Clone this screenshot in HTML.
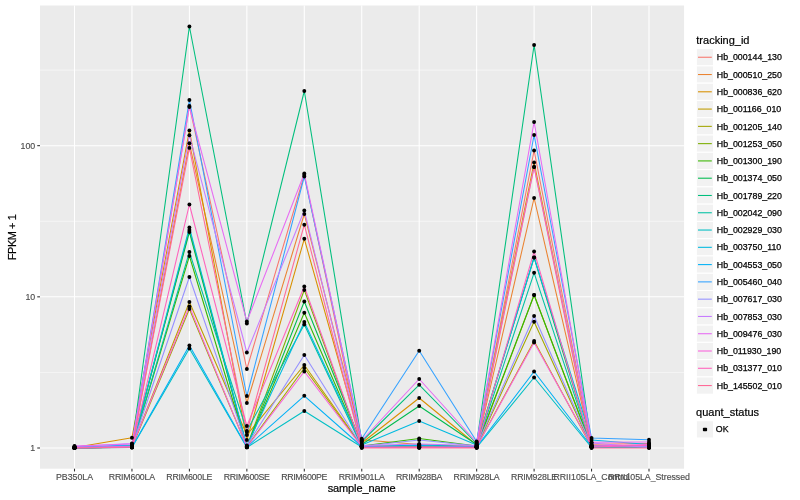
<!DOCTYPE html><html><head><meta charset="utf-8"><title>plot</title><style>html,body{margin:0;padding:0;background:#fff}svg{display:block}text{font-family:"Liberation Sans",sans-serif}</style></head><body>
<svg width="800" height="500" viewBox="0 0 800 500">
<rect width="800" height="500" fill="#fff"/>
<rect x="40.0" y="5.5" width="644.05" height="463.2" fill="#EBEBEB"/>
<g stroke="#fff" stroke-width="0.53" opacity="1">
<line x1="40.0" x2="684.05" y1="372.42" y2="372.42"/>
<line x1="40.0" x2="684.05" y1="221.25" y2="221.25"/>
<line x1="40.0" x2="684.05" y1="70.08" y2="70.08"/>
</g>
<g stroke="#fff" stroke-width="1.07">
<line x1="40.0" x2="684.05" y1="448.00" y2="448.00"/>
<line x1="40.0" x2="684.05" y1="296.83" y2="296.83"/>
<line x1="40.0" x2="684.05" y1="145.66" y2="145.66"/>
<line x1="74.5" x2="74.5" y1="5.5" y2="468.7"/>
<line x1="131.95" x2="131.95" y1="5.5" y2="468.7"/>
<line x1="189.4" x2="189.4" y1="5.5" y2="468.7"/>
<line x1="246.85000000000002" x2="246.85000000000002" y1="5.5" y2="468.7"/>
<line x1="304.3" x2="304.3" y1="5.5" y2="468.7"/>
<line x1="361.75" x2="361.75" y1="5.5" y2="468.7"/>
<line x1="419.20000000000005" x2="419.20000000000005" y1="5.5" y2="468.7"/>
<line x1="476.65000000000003" x2="476.65000000000003" y1="5.5" y2="468.7"/>
<line x1="534.1" x2="534.1" y1="5.5" y2="468.7"/>
<line x1="591.5500000000001" x2="591.5500000000001" y1="5.5" y2="468.7"/>
<line x1="649.0" x2="649.0" y1="5.5" y2="468.7"/>
</g>
<g fill="none" stroke-width="1.07" stroke-linejoin="round" stroke-linecap="butt">
<polyline stroke="#F8766D" points="74.5,448 131.95,446.5 189.4,106 246.85000000000002,369 304.3,175 361.75,446.5 419.20000000000005,447 476.65000000000003,446 534.1,150.5 591.5500000000001,444.3 649.0,443.5"/>
<polyline stroke="#EA8331" points="74.5,448 131.95,447 189.4,143.3 246.85000000000002,403 304.3,214 361.75,439.7 419.20000000000005,444.5 476.65000000000003,446.5 534.1,198 591.5500000000001,446 649.0,446.5"/>
<polyline stroke="#D89000" points="74.5,447.5 131.95,437.8 189.4,130.4 246.85000000000002,440 304.3,238.8 361.75,443 419.20000000000005,398 476.65000000000003,445 534.1,162.5 591.5500000000001,446.5 649.0,447"/>
<polyline stroke="#C09B00" points="74.5,448 131.95,447 189.4,302 246.85000000000002,435 304.3,365 361.75,446 419.20000000000005,446 476.65000000000003,447 534.1,341 591.5500000000001,447 649.0,447"/>
<polyline stroke="#A3A500" points="74.5,448 131.95,447.2 189.4,309 246.85000000000002,446.7 304.3,368 361.75,446.5 419.20000000000005,446.5 476.65000000000003,447 534.1,321.8 591.5500000000001,447 649.0,447.3"/>
<polyline stroke="#7CAE00" points="74.5,448 131.95,446.8 189.4,230 246.85000000000002,446.5 304.3,290 361.75,447 419.20000000000005,447 476.65000000000003,447.2 534.1,295 591.5500000000001,447.2 649.0,447.3"/>
<polyline stroke="#39B600" points="74.5,448 131.95,447 189.4,256 246.85000000000002,447 304.3,312.8 361.75,446 419.20000000000005,438.5 476.65000000000003,446 534.1,295 591.5500000000001,446.5 649.0,447"/>
<polyline stroke="#00BB4E" points="74.5,447.6 131.95,446 189.4,232 246.85000000000002,447 304.3,301.5 361.75,444.5 419.20000000000005,406 476.65000000000003,444.5 534.1,257.5 591.5500000000001,446.2 649.0,446.5"/>
<polyline stroke="#00BF7D" points="74.5,447.5 131.95,445.5 189.4,26.5 246.85000000000002,323.5 304.3,91 361.75,441.5 419.20000000000005,384.8 476.65000000000003,443.5 534.1,45 591.5500000000001,445.5 649.0,446"/>
<polyline stroke="#00C1A3" points="74.5,448 131.95,447 189.4,252 246.85000000000002,431 304.3,324.5 361.75,446.8 419.20000000000005,445 476.65000000000003,446.5 534.1,272.8 591.5500000000001,446.8 649.0,447"/>
<polyline stroke="#00BFC4" points="74.5,448 131.95,447.5 189.4,348.5 246.85000000000002,447.5 304.3,411 361.75,447 419.20000000000005,447.2 476.65000000000003,447.5 534.1,377.5 591.5500000000001,447.5 649.0,447.5"/>
<polyline stroke="#00BAE0" points="74.5,447.6 131.95,446.5 189.4,227.5 246.85000000000002,446 304.3,322 361.75,445 419.20000000000005,421 476.65000000000003,445 534.1,257.5 591.5500000000001,440 649.0,444.5"/>
<polyline stroke="#00B0F6" points="74.5,448 131.95,447.3 189.4,345.5 246.85000000000002,447 304.3,395.8 361.75,446.5 419.20000000000005,445.5 476.65000000000003,447 534.1,371.5 591.5500000000001,446.5 649.0,446"/>
<polyline stroke="#35A2FF" points="74.5,447 131.95,445 189.4,100 246.85000000000002,396 304.3,176.5 361.75,438.8 419.20000000000005,350.8 476.65000000000003,441.5 534.1,135 591.5500000000001,438 649.0,439.8"/>
<polyline stroke="#9590FF" points="74.5,447.5 131.95,446.5 189.4,277 246.85000000000002,445.4 304.3,355 361.75,446.2 419.20000000000005,440 476.65000000000003,446 534.1,316 591.5500000000001,446 649.0,446.5"/>
<polyline stroke="#C77CFF" points="74.5,446.5 131.95,443.5 189.4,135.3 246.85000000000002,352.5 304.3,210.5 361.75,445.5 419.20000000000005,444 476.65000000000003,445.5 534.1,167 591.5500000000001,443 649.0,447.5"/>
<polyline stroke="#E76BF3" points="74.5,446 131.95,444 189.4,107 246.85000000000002,321.5 304.3,173.5 361.75,440.5 419.20000000000005,379 476.65000000000003,442.5 534.1,122 591.5500000000001,442.3 649.0,442"/>
<polyline stroke="#FA62DB" points="74.5,447.5 131.95,446.5 189.4,306.5 246.85000000000002,447.1 304.3,371.5 361.75,446.8 419.20000000000005,447 476.65000000000003,447 534.1,342.5 591.5500000000001,446 649.0,444.5"/>
<polyline stroke="#FF62BC" points="74.5,448 131.95,447 189.4,204.5 246.85000000000002,426 304.3,286.5 361.75,447.3 419.20000000000005,447.5 476.65000000000003,447.3 534.1,251.5 591.5500000000001,447 649.0,445.3"/>
<polyline stroke="#FF6A98" points="74.5,448 131.95,447.5 189.4,147.9 246.85000000000002,432 304.3,224.7 361.75,448 419.20000000000005,448 476.65000000000003,448 534.1,167 591.5500000000001,448 649.0,448"/>
</g>
<g fill="#000">
<circle cx="74.5" cy="448" r="1.95"/>
<circle cx="131.95" cy="446.5" r="1.95"/>
<circle cx="189.4" cy="106" r="1.95"/>
<circle cx="246.85000000000002" cy="369" r="1.95"/>
<circle cx="304.3" cy="175" r="1.95"/>
<circle cx="361.75" cy="446.5" r="1.95"/>
<circle cx="419.20000000000005" cy="447" r="1.95"/>
<circle cx="476.65000000000003" cy="446" r="1.95"/>
<circle cx="534.1" cy="150.5" r="1.95"/>
<circle cx="591.5500000000001" cy="444.3" r="1.95"/>
<circle cx="649.0" cy="443.5" r="1.95"/>
<circle cx="74.5" cy="448" r="1.95"/>
<circle cx="131.95" cy="447" r="1.95"/>
<circle cx="189.4" cy="143.3" r="1.95"/>
<circle cx="246.85000000000002" cy="403" r="1.95"/>
<circle cx="304.3" cy="214" r="1.95"/>
<circle cx="361.75" cy="439.7" r="1.95"/>
<circle cx="419.20000000000005" cy="444.5" r="1.95"/>
<circle cx="476.65000000000003" cy="446.5" r="1.95"/>
<circle cx="534.1" cy="198" r="1.95"/>
<circle cx="591.5500000000001" cy="446" r="1.95"/>
<circle cx="649.0" cy="446.5" r="1.95"/>
<circle cx="74.5" cy="447.5" r="1.95"/>
<circle cx="131.95" cy="437.8" r="1.95"/>
<circle cx="189.4" cy="130.4" r="1.95"/>
<circle cx="246.85000000000002" cy="440" r="1.95"/>
<circle cx="304.3" cy="238.8" r="1.95"/>
<circle cx="361.75" cy="443" r="1.95"/>
<circle cx="419.20000000000005" cy="398" r="1.95"/>
<circle cx="476.65000000000003" cy="445" r="1.95"/>
<circle cx="534.1" cy="162.5" r="1.95"/>
<circle cx="591.5500000000001" cy="446.5" r="1.95"/>
<circle cx="649.0" cy="447" r="1.95"/>
<circle cx="74.5" cy="448" r="1.95"/>
<circle cx="131.95" cy="447" r="1.95"/>
<circle cx="189.4" cy="302" r="1.95"/>
<circle cx="246.85000000000002" cy="435" r="1.95"/>
<circle cx="304.3" cy="365" r="1.95"/>
<circle cx="361.75" cy="446" r="1.95"/>
<circle cx="419.20000000000005" cy="446" r="1.95"/>
<circle cx="476.65000000000003" cy="447" r="1.95"/>
<circle cx="534.1" cy="341" r="1.95"/>
<circle cx="591.5500000000001" cy="447" r="1.95"/>
<circle cx="649.0" cy="447" r="1.95"/>
<circle cx="74.5" cy="448" r="1.95"/>
<circle cx="131.95" cy="447.2" r="1.95"/>
<circle cx="189.4" cy="309" r="1.95"/>
<circle cx="246.85000000000002" cy="446.7" r="1.95"/>
<circle cx="304.3" cy="368" r="1.95"/>
<circle cx="361.75" cy="446.5" r="1.95"/>
<circle cx="419.20000000000005" cy="446.5" r="1.95"/>
<circle cx="476.65000000000003" cy="447" r="1.95"/>
<circle cx="534.1" cy="321.8" r="1.95"/>
<circle cx="591.5500000000001" cy="447" r="1.95"/>
<circle cx="649.0" cy="447.3" r="1.95"/>
<circle cx="74.5" cy="448" r="1.95"/>
<circle cx="131.95" cy="446.8" r="1.95"/>
<circle cx="189.4" cy="230" r="1.95"/>
<circle cx="246.85000000000002" cy="446.5" r="1.95"/>
<circle cx="304.3" cy="290" r="1.95"/>
<circle cx="361.75" cy="447" r="1.95"/>
<circle cx="419.20000000000005" cy="447" r="1.95"/>
<circle cx="476.65000000000003" cy="447.2" r="1.95"/>
<circle cx="534.1" cy="295" r="1.95"/>
<circle cx="591.5500000000001" cy="447.2" r="1.95"/>
<circle cx="649.0" cy="447.3" r="1.95"/>
<circle cx="74.5" cy="448" r="1.95"/>
<circle cx="131.95" cy="447" r="1.95"/>
<circle cx="189.4" cy="256" r="1.95"/>
<circle cx="246.85000000000002" cy="447" r="1.95"/>
<circle cx="304.3" cy="312.8" r="1.95"/>
<circle cx="361.75" cy="446" r="1.95"/>
<circle cx="419.20000000000005" cy="438.5" r="1.95"/>
<circle cx="476.65000000000003" cy="446" r="1.95"/>
<circle cx="534.1" cy="295" r="1.95"/>
<circle cx="591.5500000000001" cy="446.5" r="1.95"/>
<circle cx="649.0" cy="447" r="1.95"/>
<circle cx="74.5" cy="447.6" r="1.95"/>
<circle cx="131.95" cy="446" r="1.95"/>
<circle cx="189.4" cy="232" r="1.95"/>
<circle cx="246.85000000000002" cy="447" r="1.95"/>
<circle cx="304.3" cy="301.5" r="1.95"/>
<circle cx="361.75" cy="444.5" r="1.95"/>
<circle cx="419.20000000000005" cy="406" r="1.95"/>
<circle cx="476.65000000000003" cy="444.5" r="1.95"/>
<circle cx="534.1" cy="257.5" r="1.95"/>
<circle cx="591.5500000000001" cy="446.2" r="1.95"/>
<circle cx="649.0" cy="446.5" r="1.95"/>
<circle cx="74.5" cy="447.5" r="1.95"/>
<circle cx="131.95" cy="445.5" r="1.95"/>
<circle cx="189.4" cy="26.5" r="1.95"/>
<circle cx="246.85000000000002" cy="323.5" r="1.95"/>
<circle cx="304.3" cy="91" r="1.95"/>
<circle cx="361.75" cy="441.5" r="1.95"/>
<circle cx="419.20000000000005" cy="384.8" r="1.95"/>
<circle cx="476.65000000000003" cy="443.5" r="1.95"/>
<circle cx="534.1" cy="45" r="1.95"/>
<circle cx="591.5500000000001" cy="445.5" r="1.95"/>
<circle cx="649.0" cy="446" r="1.95"/>
<circle cx="74.5" cy="448" r="1.95"/>
<circle cx="131.95" cy="447" r="1.95"/>
<circle cx="189.4" cy="252" r="1.95"/>
<circle cx="246.85000000000002" cy="431" r="1.95"/>
<circle cx="304.3" cy="324.5" r="1.95"/>
<circle cx="361.75" cy="446.8" r="1.95"/>
<circle cx="419.20000000000005" cy="445" r="1.95"/>
<circle cx="476.65000000000003" cy="446.5" r="1.95"/>
<circle cx="534.1" cy="272.8" r="1.95"/>
<circle cx="591.5500000000001" cy="446.8" r="1.95"/>
<circle cx="649.0" cy="447" r="1.95"/>
<circle cx="74.5" cy="448" r="1.95"/>
<circle cx="131.95" cy="447.5" r="1.95"/>
<circle cx="189.4" cy="348.5" r="1.95"/>
<circle cx="246.85000000000002" cy="447.5" r="1.95"/>
<circle cx="304.3" cy="411" r="1.95"/>
<circle cx="361.75" cy="447" r="1.95"/>
<circle cx="419.20000000000005" cy="447.2" r="1.95"/>
<circle cx="476.65000000000003" cy="447.5" r="1.95"/>
<circle cx="534.1" cy="377.5" r="1.95"/>
<circle cx="591.5500000000001" cy="447.5" r="1.95"/>
<circle cx="649.0" cy="447.5" r="1.95"/>
<circle cx="74.5" cy="447.6" r="1.95"/>
<circle cx="131.95" cy="446.5" r="1.95"/>
<circle cx="189.4" cy="227.5" r="1.95"/>
<circle cx="246.85000000000002" cy="446" r="1.95"/>
<circle cx="304.3" cy="322" r="1.95"/>
<circle cx="361.75" cy="445" r="1.95"/>
<circle cx="419.20000000000005" cy="421" r="1.95"/>
<circle cx="476.65000000000003" cy="445" r="1.95"/>
<circle cx="534.1" cy="257.5" r="1.95"/>
<circle cx="591.5500000000001" cy="440" r="1.95"/>
<circle cx="649.0" cy="444.5" r="1.95"/>
<circle cx="74.5" cy="448" r="1.95"/>
<circle cx="131.95" cy="447.3" r="1.95"/>
<circle cx="189.4" cy="345.5" r="1.95"/>
<circle cx="246.85000000000002" cy="447" r="1.95"/>
<circle cx="304.3" cy="395.8" r="1.95"/>
<circle cx="361.75" cy="446.5" r="1.95"/>
<circle cx="419.20000000000005" cy="445.5" r="1.95"/>
<circle cx="476.65000000000003" cy="447" r="1.95"/>
<circle cx="534.1" cy="371.5" r="1.95"/>
<circle cx="591.5500000000001" cy="446.5" r="1.95"/>
<circle cx="649.0" cy="446" r="1.95"/>
<circle cx="74.5" cy="447" r="1.95"/>
<circle cx="131.95" cy="445" r="1.95"/>
<circle cx="189.4" cy="100" r="1.95"/>
<circle cx="246.85000000000002" cy="396" r="1.95"/>
<circle cx="304.3" cy="176.5" r="1.95"/>
<circle cx="361.75" cy="438.8" r="1.95"/>
<circle cx="419.20000000000005" cy="350.8" r="1.95"/>
<circle cx="476.65000000000003" cy="441.5" r="1.95"/>
<circle cx="534.1" cy="135" r="1.95"/>
<circle cx="591.5500000000001" cy="438" r="1.95"/>
<circle cx="649.0" cy="439.8" r="1.95"/>
<circle cx="74.5" cy="447.5" r="1.95"/>
<circle cx="131.95" cy="446.5" r="1.95"/>
<circle cx="189.4" cy="277" r="1.95"/>
<circle cx="246.85000000000002" cy="445.4" r="1.95"/>
<circle cx="304.3" cy="355" r="1.95"/>
<circle cx="361.75" cy="446.2" r="1.95"/>
<circle cx="419.20000000000005" cy="440" r="1.95"/>
<circle cx="476.65000000000003" cy="446" r="1.95"/>
<circle cx="534.1" cy="316" r="1.95"/>
<circle cx="591.5500000000001" cy="446" r="1.95"/>
<circle cx="649.0" cy="446.5" r="1.95"/>
<circle cx="74.5" cy="446.5" r="1.95"/>
<circle cx="131.95" cy="443.5" r="1.95"/>
<circle cx="189.4" cy="135.3" r="1.95"/>
<circle cx="246.85000000000002" cy="352.5" r="1.95"/>
<circle cx="304.3" cy="210.5" r="1.95"/>
<circle cx="361.75" cy="445.5" r="1.95"/>
<circle cx="419.20000000000005" cy="444" r="1.95"/>
<circle cx="476.65000000000003" cy="445.5" r="1.95"/>
<circle cx="534.1" cy="167" r="1.95"/>
<circle cx="591.5500000000001" cy="443" r="1.95"/>
<circle cx="649.0" cy="447.5" r="1.95"/>
<circle cx="74.5" cy="446" r="1.95"/>
<circle cx="131.95" cy="444" r="1.95"/>
<circle cx="189.4" cy="107" r="1.95"/>
<circle cx="246.85000000000002" cy="321.5" r="1.95"/>
<circle cx="304.3" cy="173.5" r="1.95"/>
<circle cx="361.75" cy="440.5" r="1.95"/>
<circle cx="419.20000000000005" cy="379" r="1.95"/>
<circle cx="476.65000000000003" cy="442.5" r="1.95"/>
<circle cx="534.1" cy="122" r="1.95"/>
<circle cx="591.5500000000001" cy="442.3" r="1.95"/>
<circle cx="649.0" cy="442" r="1.95"/>
<circle cx="74.5" cy="447.5" r="1.95"/>
<circle cx="131.95" cy="446.5" r="1.95"/>
<circle cx="189.4" cy="306.5" r="1.95"/>
<circle cx="246.85000000000002" cy="447.1" r="1.95"/>
<circle cx="304.3" cy="371.5" r="1.95"/>
<circle cx="361.75" cy="446.8" r="1.95"/>
<circle cx="419.20000000000005" cy="447" r="1.95"/>
<circle cx="476.65000000000003" cy="447" r="1.95"/>
<circle cx="534.1" cy="342.5" r="1.95"/>
<circle cx="591.5500000000001" cy="446" r="1.95"/>
<circle cx="649.0" cy="444.5" r="1.95"/>
<circle cx="74.5" cy="448" r="1.95"/>
<circle cx="131.95" cy="447" r="1.95"/>
<circle cx="189.4" cy="204.5" r="1.95"/>
<circle cx="246.85000000000002" cy="426" r="1.95"/>
<circle cx="304.3" cy="286.5" r="1.95"/>
<circle cx="361.75" cy="447.3" r="1.95"/>
<circle cx="419.20000000000005" cy="447.5" r="1.95"/>
<circle cx="476.65000000000003" cy="447.3" r="1.95"/>
<circle cx="534.1" cy="251.5" r="1.95"/>
<circle cx="591.5500000000001" cy="447" r="1.95"/>
<circle cx="649.0" cy="445.3" r="1.95"/>
<circle cx="74.5" cy="448" r="1.95"/>
<circle cx="131.95" cy="447.5" r="1.95"/>
<circle cx="189.4" cy="147.9" r="1.95"/>
<circle cx="246.85000000000002" cy="432" r="1.95"/>
<circle cx="304.3" cy="224.7" r="1.95"/>
<circle cx="361.75" cy="448" r="1.95"/>
<circle cx="419.20000000000005" cy="448" r="1.95"/>
<circle cx="476.65000000000003" cy="448" r="1.95"/>
<circle cx="534.1" cy="167" r="1.95"/>
<circle cx="591.5500000000001" cy="448" r="1.95"/>
<circle cx="649.0" cy="448" r="1.95"/>
</g>
<g stroke="#333" stroke-width="1.07">
<line x1="37.25" x2="40.0" y1="448.00" y2="448.00"/>
<line x1="37.25" x2="40.0" y1="296.83" y2="296.83"/>
<line x1="37.25" x2="40.0" y1="145.66" y2="145.66"/>
<line x1="74.5" x2="74.5" y1="468.7" y2="471.45"/>
<line x1="131.95" x2="131.95" y1="468.7" y2="471.45"/>
<line x1="189.4" x2="189.4" y1="468.7" y2="471.45"/>
<line x1="246.85000000000002" x2="246.85000000000002" y1="468.7" y2="471.45"/>
<line x1="304.3" x2="304.3" y1="468.7" y2="471.45"/>
<line x1="361.75" x2="361.75" y1="468.7" y2="471.45"/>
<line x1="419.20000000000005" x2="419.20000000000005" y1="468.7" y2="471.45"/>
<line x1="476.65000000000003" x2="476.65000000000003" y1="468.7" y2="471.45"/>
<line x1="534.1" x2="534.1" y1="468.7" y2="471.45"/>
<line x1="591.5500000000001" x2="591.5500000000001" y1="468.7" y2="471.45"/>
<line x1="649.0" x2="649.0" y1="468.7" y2="471.45"/>
</g>
<g font-size="8.8" fill="#4D4D4D" stroke="#4D4D4D" stroke-width="0.15">
<text x="35.2" y="451.15" text-anchor="end">1</text>
<text x="35.2" y="299.98" text-anchor="end">10</text>
<text x="35.2" y="148.81" text-anchor="end">100</text>
<text x="74.5" y="480.2" text-anchor="middle">PB350LA</text>
<text x="131.95" y="480.2" text-anchor="middle" textLength="46.2" lengthAdjust="spacing">RRIM600LA</text>
<text x="189.4" y="480.2" text-anchor="middle" textLength="46.2" lengthAdjust="spacing">RRIM600LE</text>
<text x="246.85000000000002" y="480.2" text-anchor="middle" textLength="46.2" lengthAdjust="spacing">RRIM600SE</text>
<text x="304.3" y="480.2" text-anchor="middle" textLength="46.2" lengthAdjust="spacing">RRIM600PE</text>
<text x="361.75" y="480.2" text-anchor="middle" textLength="46.2" lengthAdjust="spacing">RRIM901LA</text>
<text x="419.20000000000005" y="480.2" text-anchor="middle" textLength="46.2" lengthAdjust="spacing">RRIM928BA</text>
<text x="476.65000000000003" y="480.2" text-anchor="middle" textLength="46.2" lengthAdjust="spacing">RRIM928LA</text>
<text x="534.1" y="480.2" text-anchor="middle" textLength="46.2" lengthAdjust="spacing">RRIM928LE</text>
<text x="591.5500000000001" y="480.2" text-anchor="middle">RRII105LA_Control</text>
<text x="649.0" y="480.2" text-anchor="middle" textLength="81.9" lengthAdjust="spacing">RRII105LA_Stressed</text>
</g>
<text x="361.6" y="491.8" font-size="11" text-anchor="middle" textLength="67.9" lengthAdjust="spacing" fill="#000" stroke="#000" stroke-width="0.2">sample_name</text>
<text transform="translate(15.9,237.2) rotate(-90)" font-size="11" text-anchor="middle" textLength="46" lengthAdjust="spacing" fill="#000" stroke="#000" stroke-width="0.2">FPKM + 1</text>
<text x="696.3" y="43.6" font-size="11" fill="#000" stroke="#000" stroke-width="0.2">tracking_id</text>
<rect x="696.3" y="48.60" width="17.28" height="17.28" fill="#F2F2F2" stroke="#fff" stroke-width="1.07"/>
<line x1="698" x2="711.8" y1="57.24" y2="57.24" stroke="#F8766D" stroke-width="1.07"/>
<text x="716.8" y="60.39" font-size="8.8" fill="#000" stroke="#000" stroke-width="0.25">Hb_000144_130</text>
<rect x="696.3" y="65.88" width="17.28" height="17.28" fill="#F2F2F2" stroke="#fff" stroke-width="1.07"/>
<line x1="698" x2="711.8" y1="74.52" y2="74.52" stroke="#EA8331" stroke-width="1.07"/>
<text x="716.8" y="77.67" font-size="8.8" fill="#000" stroke="#000" stroke-width="0.25">Hb_000510_250</text>
<rect x="696.3" y="83.16" width="17.28" height="17.28" fill="#F2F2F2" stroke="#fff" stroke-width="1.07"/>
<line x1="698" x2="711.8" y1="91.80" y2="91.80" stroke="#D89000" stroke-width="1.07"/>
<text x="716.8" y="94.95" font-size="8.8" fill="#000" stroke="#000" stroke-width="0.25">Hb_000836_620</text>
<rect x="696.3" y="100.44" width="17.28" height="17.28" fill="#F2F2F2" stroke="#fff" stroke-width="1.07"/>
<line x1="698" x2="711.8" y1="109.08" y2="109.08" stroke="#C09B00" stroke-width="1.07"/>
<text x="716.8" y="112.23" font-size="8.8" fill="#000" stroke="#000" stroke-width="0.25">Hb_001166_010</text>
<rect x="696.3" y="117.72" width="17.28" height="17.28" fill="#F2F2F2" stroke="#fff" stroke-width="1.07"/>
<line x1="698" x2="711.8" y1="126.36" y2="126.36" stroke="#A3A500" stroke-width="1.07"/>
<text x="716.8" y="129.51" font-size="8.8" fill="#000" stroke="#000" stroke-width="0.25">Hb_001205_140</text>
<rect x="696.3" y="135.00" width="17.28" height="17.28" fill="#F2F2F2" stroke="#fff" stroke-width="1.07"/>
<line x1="698" x2="711.8" y1="143.64" y2="143.64" stroke="#7CAE00" stroke-width="1.07"/>
<text x="716.8" y="146.79" font-size="8.8" fill="#000" stroke="#000" stroke-width="0.25">Hb_001253_050</text>
<rect x="696.3" y="152.28" width="17.28" height="17.28" fill="#F2F2F2" stroke="#fff" stroke-width="1.07"/>
<line x1="698" x2="711.8" y1="160.92" y2="160.92" stroke="#39B600" stroke-width="1.07"/>
<text x="716.8" y="164.07" font-size="8.8" fill="#000" stroke="#000" stroke-width="0.25">Hb_001300_190</text>
<rect x="696.3" y="169.56" width="17.28" height="17.28" fill="#F2F2F2" stroke="#fff" stroke-width="1.07"/>
<line x1="698" x2="711.8" y1="178.20" y2="178.20" stroke="#00BB4E" stroke-width="1.07"/>
<text x="716.8" y="181.35" font-size="8.8" fill="#000" stroke="#000" stroke-width="0.25">Hb_001374_050</text>
<rect x="696.3" y="186.84" width="17.28" height="17.28" fill="#F2F2F2" stroke="#fff" stroke-width="1.07"/>
<line x1="698" x2="711.8" y1="195.48" y2="195.48" stroke="#00BF7D" stroke-width="1.07"/>
<text x="716.8" y="198.63" font-size="8.8" fill="#000" stroke="#000" stroke-width="0.25">Hb_001789_220</text>
<rect x="696.3" y="204.12" width="17.28" height="17.28" fill="#F2F2F2" stroke="#fff" stroke-width="1.07"/>
<line x1="698" x2="711.8" y1="212.76" y2="212.76" stroke="#00C1A3" stroke-width="1.07"/>
<text x="716.8" y="215.91" font-size="8.8" fill="#000" stroke="#000" stroke-width="0.25">Hb_002042_090</text>
<rect x="696.3" y="221.40" width="17.28" height="17.28" fill="#F2F2F2" stroke="#fff" stroke-width="1.07"/>
<line x1="698" x2="711.8" y1="230.04" y2="230.04" stroke="#00BFC4" stroke-width="1.07"/>
<text x="716.8" y="233.19" font-size="8.8" fill="#000" stroke="#000" stroke-width="0.25">Hb_002929_030</text>
<rect x="696.3" y="238.68" width="17.28" height="17.28" fill="#F2F2F2" stroke="#fff" stroke-width="1.07"/>
<line x1="698" x2="711.8" y1="247.32" y2="247.32" stroke="#00BAE0" stroke-width="1.07"/>
<text x="716.8" y="250.47" font-size="8.8" fill="#000" stroke="#000" stroke-width="0.25">Hb_003750_110</text>
<rect x="696.3" y="255.96" width="17.28" height="17.28" fill="#F2F2F2" stroke="#fff" stroke-width="1.07"/>
<line x1="698" x2="711.8" y1="264.60" y2="264.60" stroke="#00B0F6" stroke-width="1.07"/>
<text x="716.8" y="267.75" font-size="8.8" fill="#000" stroke="#000" stroke-width="0.25">Hb_004553_050</text>
<rect x="696.3" y="273.24" width="17.28" height="17.28" fill="#F2F2F2" stroke="#fff" stroke-width="1.07"/>
<line x1="698" x2="711.8" y1="281.88" y2="281.88" stroke="#35A2FF" stroke-width="1.07"/>
<text x="716.8" y="285.03" font-size="8.8" fill="#000" stroke="#000" stroke-width="0.25">Hb_005460_040</text>
<rect x="696.3" y="290.52" width="17.28" height="17.28" fill="#F2F2F2" stroke="#fff" stroke-width="1.07"/>
<line x1="698" x2="711.8" y1="299.16" y2="299.16" stroke="#9590FF" stroke-width="1.07"/>
<text x="716.8" y="302.31" font-size="8.8" fill="#000" stroke="#000" stroke-width="0.25">Hb_007617_030</text>
<rect x="696.3" y="307.80" width="17.28" height="17.28" fill="#F2F2F2" stroke="#fff" stroke-width="1.07"/>
<line x1="698" x2="711.8" y1="316.44" y2="316.44" stroke="#C77CFF" stroke-width="1.07"/>
<text x="716.8" y="319.59" font-size="8.8" fill="#000" stroke="#000" stroke-width="0.25">Hb_007853_030</text>
<rect x="696.3" y="325.08" width="17.28" height="17.28" fill="#F2F2F2" stroke="#fff" stroke-width="1.07"/>
<line x1="698" x2="711.8" y1="333.72" y2="333.72" stroke="#E76BF3" stroke-width="1.07"/>
<text x="716.8" y="336.87" font-size="8.8" fill="#000" stroke="#000" stroke-width="0.25">Hb_009476_030</text>
<rect x="696.3" y="342.36" width="17.28" height="17.28" fill="#F2F2F2" stroke="#fff" stroke-width="1.07"/>
<line x1="698" x2="711.8" y1="351.00" y2="351.00" stroke="#FA62DB" stroke-width="1.07"/>
<text x="716.8" y="354.15" font-size="8.8" fill="#000" stroke="#000" stroke-width="0.25">Hb_011930_190</text>
<rect x="696.3" y="359.64" width="17.28" height="17.28" fill="#F2F2F2" stroke="#fff" stroke-width="1.07"/>
<line x1="698" x2="711.8" y1="368.28" y2="368.28" stroke="#FF62BC" stroke-width="1.07"/>
<text x="716.8" y="371.43" font-size="8.8" fill="#000" stroke="#000" stroke-width="0.25">Hb_031377_010</text>
<rect x="696.3" y="376.92" width="17.28" height="17.28" fill="#F2F2F2" stroke="#fff" stroke-width="1.07"/>
<line x1="698" x2="711.8" y1="385.56" y2="385.56" stroke="#FF6A98" stroke-width="1.07"/>
<text x="716.8" y="388.71" font-size="8.8" fill="#000" stroke="#000" stroke-width="0.25">Hb_145502_010</text>
<text x="696.1" y="415.6" font-size="11" fill="#000" stroke="#000" stroke-width="0.2">quant_status</text>
<rect x="696.3" y="420.7" width="17.28" height="17.28" fill="#F2F2F2" stroke="#fff" stroke-width="1.07"/>
<rect x="702.9" y="427.8" width="4.2" height="3.4" rx="0.8" fill="#000"/>
<text x="715.8" y="431.7" font-size="8.8" fill="#000" stroke="#000" stroke-width="0.25">OK</text>
</svg></body></html>
